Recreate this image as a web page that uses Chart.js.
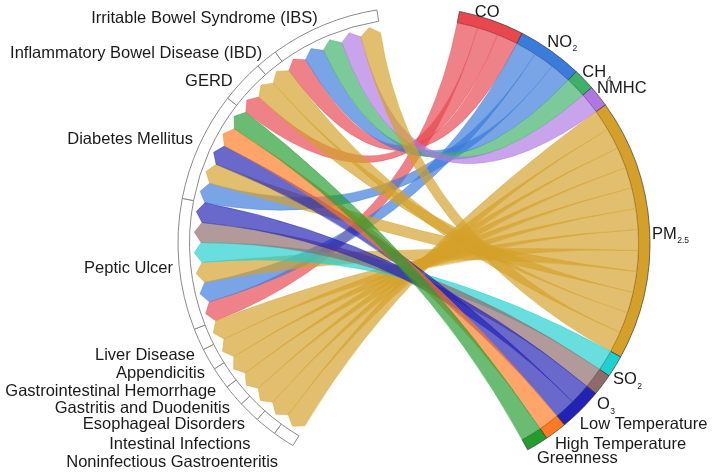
<!DOCTYPE html>
<html><head><meta charset="utf-8">
<script src="https://cdn.jsdelivr.net/npm/chart.js@4.4.1/dist/chart.umd.min.js"></script>
<style>html,body{margin:0;padding:0;background:#fff;overflow:hidden}</style>
</head><body>
<canvas id="c" width="714" height="473"></canvas>
<script>
// ---------------- data ----------------
// exposures (right half, clockwise from the top); "_" marks a subscript
const pollutants = ['CO','NO_2','CH_4','NMHC','PM_2.5','SO_2','O_3','Low Temperature','High Temperature','Greenness'];
// outcomes (left half, top to bottom)
const diseases = ['Irritable Bowel Syndrome (IBS)','Inflammatory Bowel Disease (IBD)','GERD','Diabetes Mellitus','Peptic Ulcer','Liver Disease','Appendicitis','Gastrointestinal Hemorrhage','Gastritis and Duodenitis','Esophageal Disorders','Intestinal Infections','Noninfectious Gastroenteritis'];
// associations: one value per exposure, in the order of `pollutants`
const linksIBS      = [1,1,1,1,1,0,0,0,0,0];
const linksIBD      = [0,0,0,0,1,0,0,0,0,0];
const linksGERD     = [1,0,0,0,1,0,0,0,0,0];
const linksDiabetes = [0,1,0,0,1,0,0,1,1,1];
const linksPeptic   = [1,1,0,0,1,1,1,1,0,0];
const linksLiver    = [0,0,0,0,1,0,0,0,0,0];
const linksAppend   = [0,0,0,0,1,0,0,0,0,0];
const linksGIHem    = [0,0,0,0,1,0,0,0,0,0];
const linksGastrit  = [0,0,0,0,1,0,0,0,0,0];
const linksEsoph    = [0,0,0,0,1,0,0,0,0,0];
const linksIntInf   = [0,0,0,0,1,0,0,0,0,0];
const linksNonInf   = [0,0,0,0,1,0,0,0,0,0];
const matrix = [linksIBS,linksIBD,linksGERD,linksDiabetes,linksPeptic,linksLiver,linksAppend,linksGIHem,linksGastrit,linksEsoph,linksIntInf,linksNonInf];

// ---------------- styles / layout ----------------
const pollutantColors = ['#E8474F','#3A7BDB','#3EB06A','#B077E2','#D4A02A','#22CFCF','#8F6A6A','#2222B4','#FF7A22','#249C30'];
const CX = 414, CY = 243;
const R_OUT = 236, R_IN = 224.5, TIP_R = 220, END_R = 213;
const START_DEG = -78.9;        // where the first exposure sector starts
const GAP_BOTTOM_DEG = 59.65, GAP_TOP_DEG = 20.15;
const LABEL_R = 246;
const FONT = '"Liberation Sans", Arial, sans-serif';
const FONT_SIZE = 16.5;
const rightNudge = [[-20,1],[-9,-1],[-9,-1],[-9.5,-2],[-7.6,5],[-10.6,7],[-13.6,13],[-8,6],[-6.7,4],[-5.5,5]];
const leftNudge = [[-2,2],[2,1.5],[-2,6],[3,-3],[4,2],[5.5,10.6],[5,8],[4,7],[3.6,5],[3,5],[-9,9.6],[0,13]];

// ---------------- build sectors ----------------
const nP = pollutants.length, nD = diseases.length;
const pTotals = pollutants.map((_, p) => matrix.reduce((s, row) => s + row[p], 0));
const dTotals = matrix.map(row => row.reduce((s, v) => s + v, 0));
const grand = pTotals.reduce((a, b) => a + b, 0);
const unitDeg = (360 - GAP_BOTTOM_DEG - GAP_TOP_DEG) / (2 * grand);
const dOrderCW = diseases.map((_, i) => nD - 1 - i); // clockwise order on the left half

const sectorValues = [...pTotals, GAP_BOTTOM_DEG / unitDeg, ...dOrderCW.map(d => dTotals[d]), GAP_TOP_DEG / unitDeg];
const sectorLabels = [...pollutants, '', ...dOrderCW.map(d => diseases[d]), ''];
const bg = [...pollutantColors, 'rgba(0,0,0,0)', ...dOrderCW.map(() => '#ffffff'), 'rgba(0,0,0,0)'];
const bc = [...pollutants.map(() => 'rgba(50,50,50,0.65)'), 'rgba(0,0,0,0)', ...dOrderCW.map(() => '#8a8a8a'), 'rgba(0,0,0,0)'];
const bw = [...pollutants.map(() => 1), 0, ...dOrderCW.map(() => 1), 0];

function rgba(hex, a) {
  const n = parseInt(hex.slice(1), 16);
  return `rgba(${(n >> 16) & 255},${(n >> 8) & 255},${n & 255},${a})`;
}

const chordPlugin = {
  id: 'chord',
  afterDatasetsDraw(chart) {
    const arcs = chart.getDatasetMeta(0).data;
    const ctx = chart.ctx;
    const cx = arcs[0].x, cy = arcs[0].y;
    // sub-spans on exposure sectors (links ordered clockwise by outcome position)
    const pSpan = {}, dSpan = {};
    for (let p = 0; p < nP; p++) {
      const a = arcs[p];
      let ang = a.startAngle;
      const k = (a.endAngle - a.startAngle) / pTotals[p];
      dOrderCW.forEach(d => {
        const v = matrix[d][p];
        if (v > 0) { pSpan[d + '_' + p] = [ang, ang + v * k]; ang += v * k; }
      });
    }
    dOrderCW.forEach((d, i) => {
      const a = arcs[nP + 1 + i];
      let ang = a.startAngle;
      const k = (a.endAngle - a.startAngle) / dTotals[d];
      for (let p = 0; p < nP; p++) {
        const v = matrix[d][p];
        if (v > 0) { dSpan[d + '_' + p] = [ang, ang + v * k]; ang += v * k; }
      }
    });
    const pt = (r, t) => [cx + r * Math.cos(t), cy + r * Math.sin(t)];
    ctx.save();
    for (let p = 0; p < nP; p++) {
      for (let d = 0; d < nD; d++) {
        if (!(matrix[d][p] > 0)) continue;
        const [s0, s1] = pSpan[d + '_' + p];
        const [t0, t1] = dSpan[d + '_' + p];
        const tm = (t0 + t1) / 2;
        ctx.beginPath();
        ctx.arc(cx, cy, R_IN, s0, s1);
        let q = pt(END_R, t0);
        ctx.quadraticCurveTo(cx, cy, q[0], q[1]);
        q = pt(TIP_R, tm); ctx.lineTo(q[0], q[1]);
        q = pt(END_R, t1); ctx.lineTo(q[0], q[1]);
        q = pt(R_IN, s0);
        ctx.quadraticCurveTo(cx, cy, q[0], q[1]);
        ctx.closePath();
        ctx.fillStyle = rgba(pollutantColors[p], 0.68);
        ctx.fill();
        ctx.lineWidth = 0.7;
        ctx.strokeStyle = rgba(pollutantColors[p], 0.55);
        ctx.stroke();
      }
    }
    ctx.restore();
  },
  afterDraw(chart) {
    const arcs = chart.getDatasetMeta(0).data;
    const ctx = chart.ctx;
    const cx = arcs[0].x, cy = arcs[0].y;
    ctx.save();
    ctx.fillStyle = '#1a1a1a';
    ctx.textBaseline = 'alphabetic';
    // exposures
    pollutants.forEach((name, p) => {
      const a = arcs[p];
      const t = (a.startAngle + a.endAngle) / 2;
      let x = cx + LABEL_R * Math.cos(t) + rightNudge[p][0];
      const y = cy + LABEL_R * Math.sin(t) + rightNudge[p][1] + 5.5;
      const parts = name.split('_');
      ctx.textAlign = 'left';
      ctx.font = FONT_SIZE + 'px ' + FONT;
      ctx.fillText(parts[0], x, y);
      if (parts[1]) {
        x += ctx.measureText(parts[0]).width + 0.5;
        ctx.font = '8.5px ' + FONT;
        ctx.fillText(parts[1], x, y + 4.5);
      }
    });
    // outcomes
    dOrderCW.forEach((d, i) => {
      const a = arcs[nP + 1 + i];
      const t = (a.startAngle + a.endAngle) / 2;
      const x = cx + LABEL_R * Math.cos(t) + leftNudge[d][0];
      const y = cy + LABEL_R * Math.sin(t) + leftNudge[d][1] + 5.5;
      ctx.textAlign = 'right';
      ctx.font = FONT_SIZE + 'px ' + FONT;
      ctx.fillText(diseases[d], x, y);
    });
    ctx.restore();
  }
};

new Chart(document.getElementById('c'), {
  type: 'doughnut',
  data: {
    labels: sectorLabels,
    datasets: [{ data: sectorValues, backgroundColor: bg, borderColor: bc, borderWidth: bw, borderAlign: 'center', hoverOffset: 0, offset: 0 }]
  },
  options: {
    responsive: false,
    animation: false,
    events: [],
    rotation: START_DEG + 90,
    circumference: 360,
    radius: R_OUT,
    cutout: (R_IN / R_OUT * 100) + '%',
    layout: { padding: { left: 2 * CX - 714, right: 0, top: 2 * CY - 473, bottom: 0 } },
    plugins: { legend: { display: false }, tooltip: { enabled: false } }
  },
  plugins: [chordPlugin]
});
</script>
</body></html>
